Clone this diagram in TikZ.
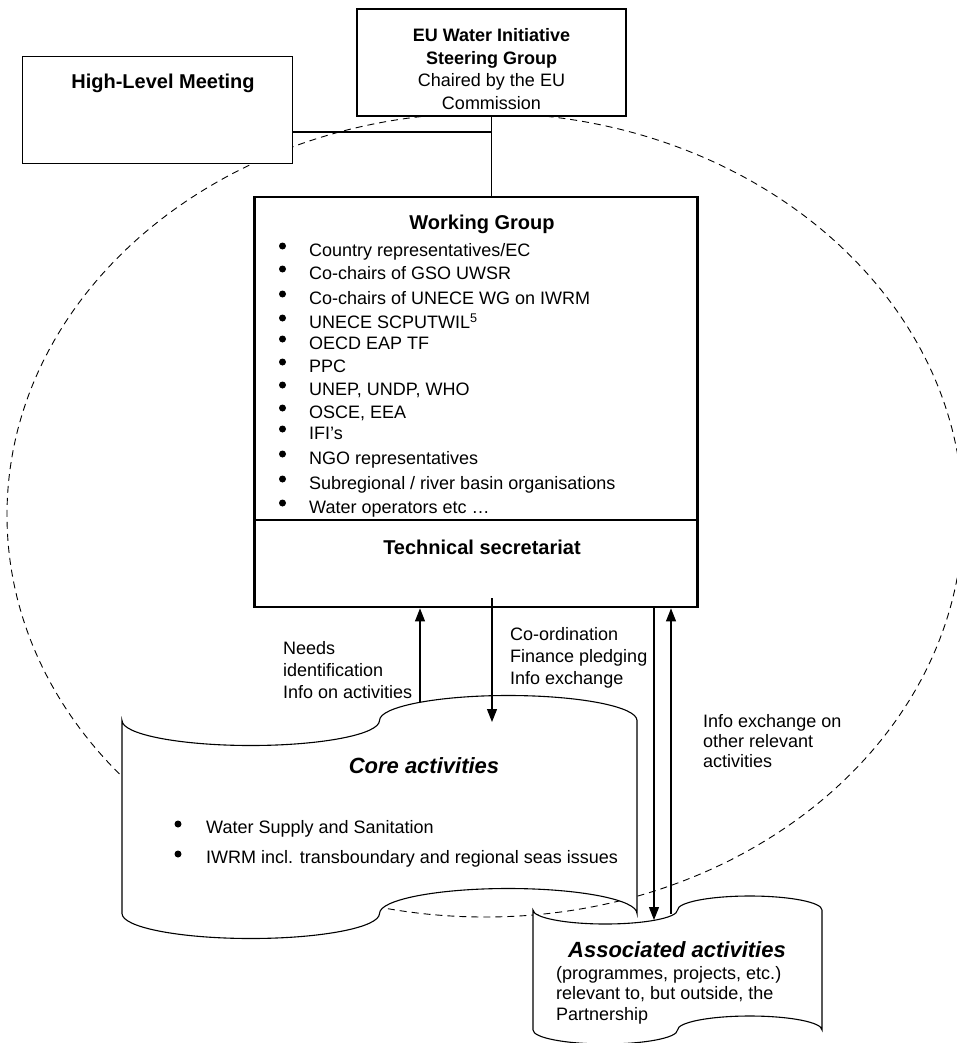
\documentclass[tikz,border=0pt]{standalone}
\usepackage{fontspec}
\setmainfont{Liberation Sans}
\usetikzlibrary{arrows.meta, positioning}

\begin{document}
\begin{tikzpicture}[x=1pt,y=-1pt,
  box/.style={draw,fill=white,line width=1.1pt,inner sep=0pt},
  wgbox/.style={draw,fill=white,line width=2.8pt,inner sep=0pt,minimum width=443pt},
  body/.style={font=\fontsize{18}{22}\selectfont,inner sep=0pt},
  head/.style={font=\fontsize{20}{24}\selectfont\bfseries,inner sep=0pt},
  banner/.style={font=\fontsize{22}{26}\selectfont\bfseries\itshape,inner sep=0pt},
  dot/.style={circle,fill,inner sep=0pt,minimum size=7pt},
  link/.style={line width=1.1pt},
  flow/.style={line width=1.1pt,-{Triangle[length=13pt,width=10pt]}},
  partnership/.style={dash pattern=on 7pt off 5pt,line width=0.9pt}]
\useasboundingbox (0,0) rectangle (956,1043);

% boundary of the partnership
\draw[partnership] (485,515) ellipse [x radius=478pt, y radius=402pt];

% top level
\node[box,minimum width=270pt,minimum height=107pt] (hlm) at (157.5,110) {};
\node[head] (hlmtext) at (163,83) {High-Level Meeting};
\node[box,minimum width=269pt,minimum height=107pt] (steer) at (491.5,62.5) {};
\node[body,align=center,font=\fontsize{18}{22.7}\selectfont] (steertext) at (491.5,69)
  {\textbf{EU Water Initiative}\\\textbf{Steering Group}\\Chaired by the EU\\Commission};

% working group and secretariat
\node[wgbox,minimum height=323pt] (wg) at (476,358.5) {};
\node[wgbox,minimum height=87pt] (ts) at (476,563.5) {};
\node[head] (wgtext) at (482,224) {Working Group};
\node[head] (tstext) at (482,547) {Technical secretariat};
\foreach \y/\entry [count=\i] in {250/{Country representatives/EC}, 273/{Co-chairs of GSO UWSR},
    298/{Co-chairs of UNECE WG on IWRM}, 322/{UNECE SCPUTWIL\textsuperscript{5}}, 343/{OECD EAP TF},
    366/{PPC}, 389/{UNEP, UNDP, WHO}, 412/{OSCE, EEA}, 433/{IFI’s}, 458/{NGO representatives},
    483/{Subregional / river basin organisations}, 507/{Water operators etc …}}
{
  \node[dot] (wgdot\i) at (282.5,\y-4) {};
  \node[body,anchor=base west] (wgitem\i) at (309,\y+6.5) {\entry};
}

\coordinate (jn) at (491.5,132);
\draw[link] (steer.south) -- (steer.south |- wg.north);
\draw[link] (hlm.east |- jn) -- (jn);

% core activities
\draw[box] (122,720.5) arc[start angle=180,end angle=360,x radius=128.75pt,y radius=25pt]
  arc[start angle=180,end angle=0,x radius=128.75pt,y radius=25pt]
  -- (637,913.5) arc[start angle=0,end angle=180,x radius=128.75pt,y radius=25pt]
  arc[start angle=0,end angle=-180,x radius=128.75pt,y radius=25pt] -- cycle;
\node[banner] (core) at (424,766) {Core activities};
\node[dot] (coredot1) at (178,824) {};
\node[dot] (coredot2) at (178,854) {};
\node[body,anchor=base west] (coreitem1) at (206,833.5) {Water Supply and Sanitation};
\node[body,anchor=base west] (coreitem2) at (206,863.5) {IWRM incl. transboundary and regional seas issues};

% associated activities
\draw[box] (533,910) arc[start angle=180,end angle=360,x radius=72.25pt,y radius=14pt]
  arc[start angle=180,end angle=0,x radius=72.25pt,y radius=14pt]
  -- (822,1030) arc[start angle=0,end angle=180,x radius=72.25pt,y radius=14pt]
  arc[start angle=0,end angle=-180,x radius=72.25pt,y radius=14pt] -- cycle;
\node[banner] (assoc) at (677,950) {Associated activities};
\node[body,align=left,anchor=west,font=\fontsize{18}{20.5}\selectfont] (assocnote) at (556,995)
  {(programmes, projects, etc.)\\relevant to, but outside, the\\Partnership};

% flows
\node[body,align=left,anchor=west] (needs) at (283,670) {Needs\\identification\\Info on activities};
\node[body,align=left,anchor=west] (coord) at (510,658) {Co-ordination\\Finance pledging\\Info exchange};
\node[body,align=left,anchor=west,font=\fontsize{18}{20}\selectfont] (infoex) at (703,741)
  {Info exchange on\\other relevant\\activities};
\coordinate (needsfoot) at (420,702);
\coordinate (coretip) at (492,722);
\coordinate (associn) at (654,920);
\coordinate (assocout) at (671,914);
\draw[flow] (needsfoot) -- (needsfoot |- ts.south);
\draw[flow] (coretip |- ts.south) ++(0,-10) -- (coretip);
\draw[flow] (associn |- ts.south) -- (associn);
\draw[flow] (assocout) -- (assocout |- ts.south);
\end{tikzpicture}
\end{document}
